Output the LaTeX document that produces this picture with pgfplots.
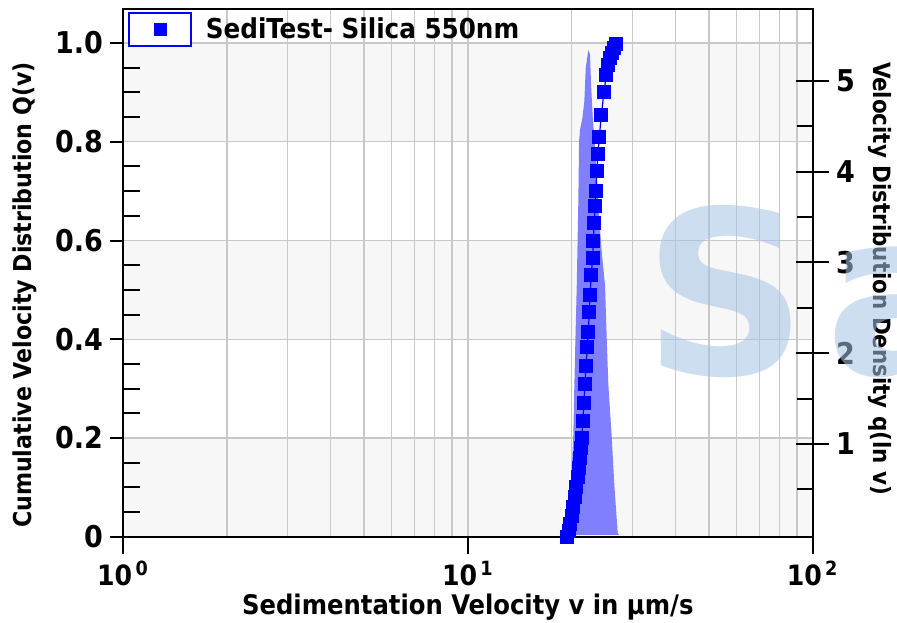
\documentclass[border=0pt]{standalone}
\usepackage{pgfplots}
\pgfplotsset{compat=1.18}
\usepackage{fontspec}
\setmainfont{DejaVu Sans Condensed}
\newfontfamily\wmfont{DejaVu Sans}
\definecolor{areablue}{RGB}{128,128,255}
\definecolor{gridgray}{RGB}{200,200,200}
\definecolor{bandgray}{RGB}{247,247,247}
\definecolor{wmblue}{RGB}{165,195,230}
\pgfplotsset{
  every axis/.append style={width=344.85pt, height=263.85pt, scale only axis, xmin=1, xmax=100},
}
\newcommand{\tickfont}{\bfseries\fontsize{15}{16}\selectfont}
\begin{document}
\begin{tikzpicture}
% background bands
\begin{axis}[xmode=log, hide axis, ymin=0, ymax=1.069]
\addplot[draw=none, fill=bandgray] coordinates {(1,0) (100,0) (100,0.2) (1,0.2)} -- cycle;
\addplot[draw=none, fill=bandgray] coordinates {(1,0.4) (100,0.4) (100,0.6) (1,0.6)} -- cycle;
\addplot[draw=none, fill=bandgray] coordinates {(1,0.8) (100,0.8) (100,1.0) (1,1.0)} -- cycle;
\end{axis}
% grid, x ticks, x labels
\begin{axis}[xmode=log, ymin=0, ymax=1.069,
  axis line style={draw=none},
  xtick={1,10,100},
  minor xtick={2,3,4,5,6,7,8,9,20,30,40,50,60,70,80,90},
  xticklabels={10\textsuperscript{\,0},10\textsuperscript{\,1},10\textsuperscript{\,2}},
  xticklabel style={font=\bfseries\fontsize{14}{15}\selectfont},
  ytick={0.2,0.4,0.6,0.8,1.0}, yticklabels={},
  xmajorgrids, xminorgrids, ymajorgrids,
  grid style={gridgray, line width=0.7pt},
  minor grid style={gridgray, line width=0.7pt},
  tick align=outside, xtick pos=left, ytick pos=left,
  major tick length=8.5pt, minor tick length=0pt,
  xtick style={black, line width=1pt}, ytick style={draw=none},
  xlabel={Sedimentation Velocity v in μm/s},
  every axis x label/.style={at={(axis description cs:0.5,-0.133)}, anchor=center, font=\bfseries\fontsize{13.5}{14}\selectfont},
]
\end{axis}
% density axis (right)
\begin{axis}[xmode=log, ymin=-0.02, ymax=5.79,
  axis y line*=right, axis x line=none,
  axis line style={line width=1pt},
  ytick={1,2,3,4,5}, yticklabels={1,2,3,4,5},
  yticklabel style={font=\tickfont},
  tick align=center, major tick length=16.5pt,
  ytick style={black, line width=1pt},
  ylabel={Velocity Distribution Density q(ln v)},
  every axis y label/.style={at={(axis description cs:1.0976,0.489)}, anchor=center, rotate=-90, font=\bfseries\fontsize{11.9}{12}\selectfont},
]
\addplot[fill=areablue, draw=none] table {
19.01 0
19.56 0.02
19.91 0.55
20.22 1.10
20.36 1.65
20.55 2.30
20.69 2.75
20.82 3.30
20.91 3.67
21.01 4.33
21.15 4.46
21.50 4.60
21.76 4.77
21.97 5.14
22.35 5.34
22.61 5.29
22.76 4.96
23.06 4.55
23.53 4.13
24.17 3.36
24.49 3.08
24.99 2.75
25.27 2.17
25.55 1.65
26.13 1.08
26.59 0.55
27.20 0.02
27.44 0
} \closedcycle;
\end{axis}
% right minor ticks
\begin{axis}[xmode=log, ymin=-0.02, ymax=5.79,
  axis y line*=right, axis x line=none,
  axis line style={draw=none},
  ytick={0.5,1.5,2.5,3.5,4.5}, yticklabels={},
  tick align=inside, major tick length=8pt,
  ytick style={black, line width=1pt},
]
\end{axis}
% left minor ticks
\begin{axis}[xmode=log, ymin=0, ymax=1.069,
  axis y line*=left, axis x line=none,
  axis line style={draw=none},
  ytick={0.05,0.1,0.15,0.25,0.3,0.35,0.45,0.5,0.55,0.65,0.7,0.75,0.85,0.9,0.95}, yticklabels={},
  tick align=inside, major tick length=8.5pt,
  ytick style={black, line width=1pt},
]
\end{axis}
% main cumulative axis
\begin{axis}[xmode=log, ymin=0, ymax=1.069,
  axis line style={line width=1pt},
  xtick=\empty,
  ytick={0,0.2,0.4,0.6,0.8,1.0}, yticklabels={0,0.2,0.4,0.6,0.8,1.0},
  yticklabel style={font=\tickfont},
  tick align=outside, ytick pos=left, major tick length=6.5pt,
  ytick style={black, line width=1pt},
  ylabel={Cumulative Velocity Distribution Q(v)},
  every axis y label/.style={at={(axis description cs:-0.142,0.458)}, anchor=center, rotate=90, font=\bfseries\fontsize{12.3}{13}\selectfont},
  legend style={at={(rel axis cs:0,1)}, anchor=north west, xshift=2.5pt, yshift=-1.5pt, draw=none, fill=none, inner sep=0pt, font=\bfseries\fontsize{13.7}{14}\selectfont},
  legend cell align=left,
  legend image code/.code={\draw[blue, line width=0.75pt, fill=white] (0pt,-8.25pt) rectangle (31pt,8.25pt); \fill[blue] (12.5pt,-3pt) rectangle (18.5pt,3pt);},
]
\addplot[blue, line width=0.6pt, mark=square*, mark size=3.2pt, mark options={fill=blue, draw=none}] table {
19.4 0.000
19.6 0.012
19.8 0.025
20.0 0.042
20.2 0.060
20.4 0.080
20.6 0.100
20.8 0.120
20.95 0.140
21.1 0.160
21.25 0.180
21.4 0.200
21.55 0.235
21.7 0.270
21.85 0.310
22.0 0.345
22.2 0.385
22.35 0.415
22.5 0.455
22.6 0.490
22.8 0.530
23.0 0.565
23.1 0.600
23.25 0.635
23.4 0.670
23.5 0.700
23.65 0.740
23.85 0.775
24.05 0.810
24.4 0.855
24.8 0.900
25.2 0.935
25.5 0.955
25.9 0.970
26.2 0.980
26.5 0.990
26.8 0.998
};
\addlegendentry{\hspace{5pt}SediTest- Silica 550nm}
\end{axis}
\node[anchor=base west, inner sep=0pt, text=wmblue, opacity=0.55, font=\wmfont\bfseries\fontsize{114}{114}\selectfont] at (260pt,81.35pt) {S\hspace{9pt}a};
\pgfresetboundingbox
\path (-61.5pt,-42.65pt) rectangle (387pt,268.35pt);
\end{tikzpicture}
\end{document}
